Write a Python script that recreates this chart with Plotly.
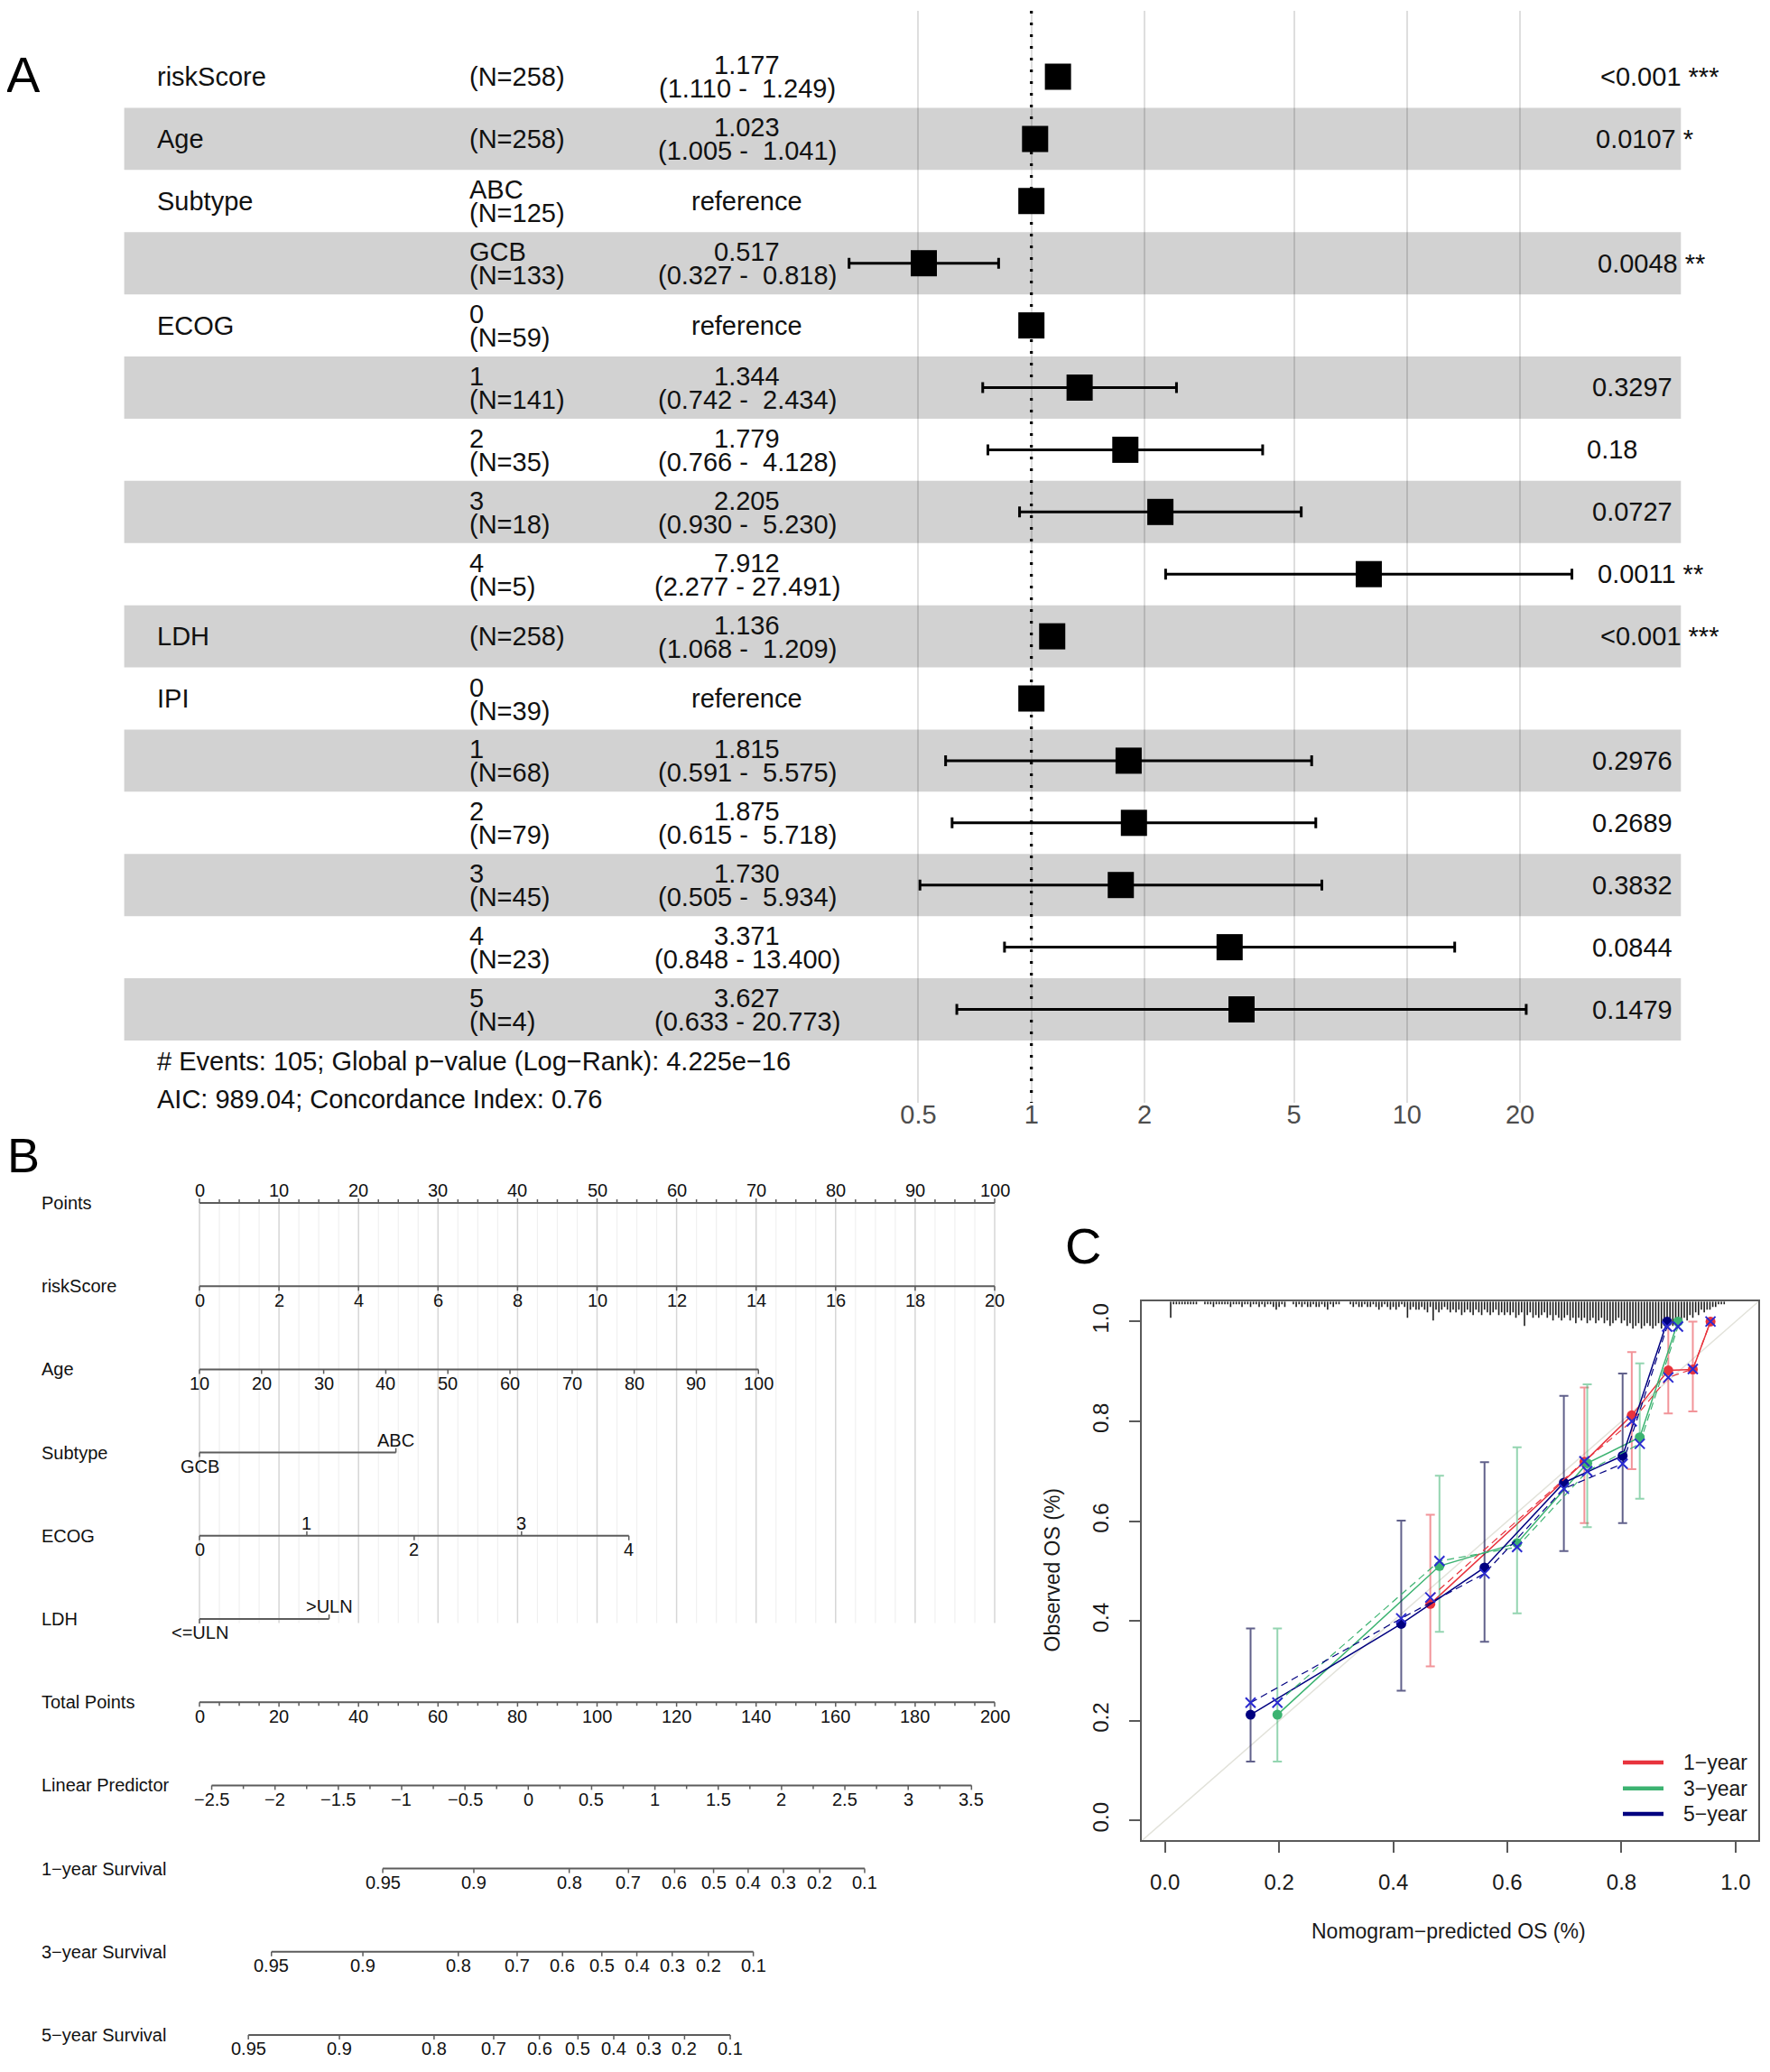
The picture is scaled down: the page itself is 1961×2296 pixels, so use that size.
import plotly.graph_objects as go

W, H = 1961, 2296
OFF = 8  # page body margin of the browser
FONT = "Liberation Sans, Arial, Helvetica, sans-serif"


def px(v):
    return (v - OFF) / W


def py(v):
    return 1 - (v - OFF) / H


# ---------------- Panel A: forest plot data ----------------
var_names = ["riskScore", "Age", "Subtype", "", "ECOG", "", "", "", "", "LDH", "IPI", "", "", "", "", ""]
levels = ["", "", "ABC", "GCB", "0", "1", "2", "3", "4", "", "0", "1", "2", "3", "4", "5"]
n_obs = [258, 258, 125, 133, 59, 141, 35, 18, 5, 258, 39, 68, 79, 45, 23, 4]
hr = [1.177, 1.023, 1.0, 0.517, 1.0, 1.344, 1.779, 2.205, 7.912, 1.136, 1.0, 1.815, 1.875, 1.730, 3.371, 3.627]
ci_low = [1.110, 1.005, None, 0.327, None, 0.742, 0.766, 0.930, 2.277, 1.068, None, 0.591, 0.615, 0.505, 0.848, 0.633]
ci_high = [1.249, 1.041, None, 0.818, None, 2.434, 4.128, 5.230, 27.491, 1.209, None, 5.575, 5.718, 5.934, 13.400, 20.773]
p_values = ["<0.001", "0.0107", "", "0.0048", "", "0.3297", "0.18", "0.0727", "0.0011", "<0.001", "",
            "0.2976", "0.2689", "0.3832", "0.0844", "0.1479"]
stars = ["***", "*", "", "**", "", "", "", "", "**", "***", "", "", "", "", "", ""]
hr_ticks = [0.5, 1, 2, 5, 10, 20]
footer_lines = ["# Events: 105; Global p\u2212value (Log\u2212Rank): 4.225e\u221216",
                "AIC: 989.04; Concordance Index: 0.76"]

# ---------------- Panel B: nomogram data ----------------
nomo_rows = ["Points", "riskScore", "Age", "Subtype", "ECOG", "LDH", "Total Points", "Linear Predictor",
             "1\u2212year Survival", "3\u2212year Survival", "5\u2212year Survival"]
points_ticks = [0, 10, 20, 30, 40, 50, 60, 70, 80, 90, 100]
riskscore_ticks = [0, 2, 4, 6, 8, 10, 12, 14, 16, 18, 20]
RS_PTS_PER_UNIT = 5.0
age_ticks = [10, 20, 30, 40, 50, 60, 70, 80, 90, 100]
AGE_PTS_PER_YEAR = 0.781
subtype_levels = ["GCB", "ABC"]
subtype_points = [0.0, 24.7]
ecog_levels = ["0", "1", "2", "3", "4"]
ecog_points = [0.0, 13.5, 27.0, 40.5, 54.0]
ldh_levels = ["<=ULN", ">ULN"]
ldh_points = [0.0, 16.3]
total_ticks = [0, 20, 40, 60, 80, 100, 120, 140, 160, 180, 200]
lp_ticks = [-2.5, -2, -1.5, -1, -0.5, 0, 0.5, 1, 1.5, 2, 2.5, 3, 3.5]
LP_TP_AT_ZERO = 82.7
TP_PER_LP = 31.85
surv_ticks = ["0.95", "0.9", "0.8", "0.7", "0.6", "0.5", "0.4", "0.3", "0.2", "0.1"]
surv1_tp = [46.1, 69.0, 93.0, 107.9, 119.5, 129.3, 138.0, 146.9, 156.0, 167.3]
surv3_tp = [18.1, 41.1, 65.1, 79.9, 91.3, 101.2, 110.0, 118.9, 128.0, 139.3]
surv5_tp = [12.3, 35.2, 59.0, 74.0, 85.5, 95.2, 104.2, 113.0, 122.0, 133.5]

# ---------------- Panel C: calibration data ----------------
cal_pred_1 = [0.465, 0.735, 0.818, 0.882, 0.925, 0.956]
cal_obs_1 = [0.434, 0.719, 0.812, 0.902, 0.904, 1.0]
cal_lo_1 = [0.309, 0.596, 0.704, 0.816, 0.820, 1.0]
cal_hi_1 = [0.613, 0.868, 0.939, 1.0, 1.0, 1.0]
cal_corr_1 = [0.447, 0.720, 0.800, 0.888, 0.905, 1.0]

cal_pred_3 = [0.197, 0.481, 0.617, 0.740, 0.832, 0.899]
cal_obs_3 = [0.212, 0.510, 0.556, 0.716, 0.768, 1.0]
cal_lo_3 = [0.118, 0.378, 0.415, 0.588, 0.645, 1.0]
cal_hi_3 = [0.385, 0.691, 0.748, 0.874, 0.916, 1.0]
cal_corr_3 = [0.236, 0.520, 0.548, 0.700, 0.755, 0.99]

cal_pred_5 = [0.150, 0.414, 0.560, 0.699, 0.802, 0.880]
cal_obs_5 = [0.212, 0.394, 0.507, 0.677, 0.731, 1.0]
cal_lo_5 = [0.118, 0.260, 0.358, 0.540, 0.596, 1.0]
cal_hi_5 = [0.385, 0.601, 0.718, 0.851, 0.896, 1.0]
cal_corr_5 = [0.236, 0.405, 0.495, 0.665, 0.715, 0.99]

cal_ticks = [0.0, 0.2, 0.4, 0.6, 0.8, 1.0]
rug_start = 0.005
rug_step = 0.005
rug_counts = [0, 6, 1, 1, 1, 1, 1, 1, 1, 1,
              1, 0, 0, 1, 1, 1, 2, 1, 1, 1,
              1, 1, 2, 1, 1, 1, 2, 1, 1, 2,
              1, 1, 2, 1, 2, 1, 1, 2, 3, 2,
              1, 2, 0, 0, 1, 2, 1, 2, 1, 2,
              2, 1, 2, 2, 1, 2, 3, 1, 2, 1,
              1, 0, 0, 0, 1, 2, 1, 2, 2, 1,
              2, 2, 1, 2, 3, 2, 1, 2, 3, 2,
              3, 2, 1, 2, 6, 3, 2, 3, 3, 2,
              3, 4, 2, 7, 3, 4, 3, 2, 3, 4,
              3, 4, 3, 5, 4, 3, 4, 5, 3, 4,
              5, 3, 4, 5, 4, 3, 5, 4, 5, 4,
              5, 4, 6, 5, 4, 9, 5, 4, 6, 5,
              6, 5, 4, 6, 5, 7, 5, 6, 7, 6,
              5, 7, 6, 8, 6, 7, 6, 8, 7, 6,
              8, 7, 6, 8, 7, 9, 8, 7, 6, 8,
              7, 9, 8, 10, 9, 8, 10, 9, 8, 9,
              10, 9, 8, 10, 9, 10, 8, 9, 8, 9,
              8, 6, 7, 5, 6, 4, 5, 3, 4, 3,
              3, 2, 2, 1, 1, 1]

# ---------------- styles ----------------
BAND = "#d2d2d2"
TXT = "#111111"
RED = "#e8333d"
GREEN = "#3cb371"
NAVY = "#000080"
BLUE = "#2b2bd0"
NOMO_LINE = "#5c5c5c"

fig = go.Figure()
shapes = []
annotations = []


def ann(text, x, y, xref="paper", yref="paper", size=29, xanchor="left", yanchor="middle",
        color=TXT, xshift=0, yshift=0, textangle=0):
    annotations.append(dict(text=text, x=x, y=y, xref=xref, yref=yref, showarrow=False,
                            font=dict(family=FONT, size=size, color=color), xanchor=xanchor,
                            yanchor=yanchor, xshift=xshift, yshift=yshift, textangle=textangle))


# ================= Panel A =================
n_rows = len(hr)
for i in range(n_rows):
    if i % 2 == 1:
        shapes.append(dict(type="rect", xref="x domain", yref="y", x0=0, x1=1, y0=i - 0.5, y1=i + 0.5,
                           fillcolor=BAND, line_width=0, layer="below"))

Y_TOP, Y_BOT = -1.0595, 16.502
fig.add_trace(go.Scatter(x=[1, 1], y=[Y_TOP, Y_BOT], mode="lines", xaxis="x", yaxis="y",
                         line=dict(color="black", width=3.2, dash="3px,10px"), hoverinfo="skip"))

ci_idx = [i for i in range(n_rows) if ci_low[i] is not None]
ref_idx = [i for i in range(n_rows) if ci_low[i] is None]
fig.add_trace(go.Scatter(
    x=[hr[i] for i in ci_idx], y=ci_idx, mode="markers", xaxis="x", yaxis="y",
    marker=dict(symbol="square", size=29, color="black"),
    error_x=dict(type="data", symmetric=False,
                 array=[ci_high[i] - hr[i] for i in ci_idx],
                 arrayminus=[hr[i] - ci_low[i] for i in ci_idx],
                 color="black", thickness=3, width=6),
    hoverinfo="skip"))
fig.add_trace(go.Scatter(x=[hr[i] for i in ref_idx], y=ref_idx, mode="markers", xaxis="x", yaxis="y",
                         marker=dict(symbol="square", size=29, color="black"), hoverinfo="skip"))

CW = {".": 0.278, "<": 0.584, " ": 0.278, "*": 0.389}
hi_strs = [f"{v:.3f}" if v is not None else "" for v in ci_high]
hi_w = max(len(s) for s in hi_strs)
for i in range(n_rows):
    if var_names[i]:
        ann(var_names[i], px(172), i, yref="y")
    ntxt = f"(N={n_obs[i]})"
    if levels[i]:
        ann(levels[i], px(517.5), i, yref="y", yshift=12.5)
        ann(ntxt, px(517.5), i, yref="y", yshift=-13.5)
    else:
        ann(ntxt, px(517.5), i, yref="y")
    if ci_low[i] is None:
        ann("reference", px(827.5), i, yref="y", xanchor="center")
    else:
        hs = hi_strs[i]
        ci_txt = f"({ci_low[i]:.3f} -\u00a0" + "\u00a0" * (hi_w - len(hs)) + hs + ")"
        ann(f"{hr[i]:.3f}", px(827.5), i, yref="y", xanchor="center", yshift=12.5)
        ann(ci_txt, px(827.5), i, yref="y", xanchor="center", yshift=-13.5)
    if p_values[i]:
        ptxt = p_values[i] + (" " + stars[i] if stars[i] else "")
        w = sum(CW.get(ch, 0.556) for ch in ptxt) * 29
        ann(ptxt.replace(" ", "\u00a0"), px(1744.5), i, yref="y", xshift=0.2 * w)

ann(footer_lines[0], px(172), py(1176))
ann(footer_lines[1], px(172), py(1217.5))
ann("A", px(26), py(83), size=56, xanchor="center", color="black")

# ================= Panel B =================
ROW_PX = 92.2
TICK = 5 / ROW_PX


def pts_of_tp(tp):
    return tp / 2.0


grid_major_x, grid_major_y, grid_minor_x, grid_minor_y = [], [], [], []
k = 0
while k * 2.5 <= 100.0001:
    v = k * 2.5
    if k % 4 == 0:
        grid_major_x += [v, v, None]
        grid_major_y += [0, 5.05, None]
    else:
        grid_minor_x += [v, v, None]
        grid_minor_y += [0, 5.05, None]
    k += 1
fig.add_trace(go.Scatter(x=grid_minor_x, y=grid_minor_y, mode="lines", xaxis="x2", yaxis="y2",
                         line=dict(color="#f0f0f0", width=1.2), hoverinfo="skip"))
fig.add_trace(go.Scatter(x=grid_major_x, y=grid_major_y, mode="lines", xaxis="x2", yaxis="y2",
                         line=dict(color="#d6d6d6", width=1.5), hoverinfo="skip"))

line_x, line_y, tick_x, tick_y = [], [], [], []


def nomo_scale(row, positions, labels, sides, minor=None, minor_side=None):
    line_x.extend([min(positions), max(positions), None])
    line_y.extend([row, row, None])
    for p, lab, s in zip(positions, labels, sides):
        tick_x.extend([p, p, None])
        tick_y.extend([row, row + s * TICK, None])
        ann(lab, p, row, xref="x2", yref="y2", size=20, xanchor="center",
            yshift=(-15.5 if s > 0 else 14))
    if minor:
        for p in minor:
            tick_x.extend([p, p, None])
            tick_y.extend([row, row + minor_side * TICK * 0.8, None])


nomo_scale(0, points_ticks, [str(v) for v in points_ticks], [-1] * len(points_ticks),
           minor=[k * 2.5 for k in range(41) if k % 4 != 0], minor_side=-1)
nomo_scale(1, [v * RS_PTS_PER_UNIT for v in riskscore_ticks], [str(v) for v in riskscore_ticks],
           [1] * len(riskscore_ticks))
nomo_scale(2, [(v - 10) * AGE_PTS_PER_YEAR for v in age_ticks], [str(v) for v in age_ticks],
           [1] * len(age_ticks))
nomo_scale(3, subtype_points, subtype_levels, [1, -1])
nomo_scale(4, ecog_points, ecog_levels, [1, -1, 1, -1, 1])
nomo_scale(5, ldh_points, ldh_levels, [1, -1])
nomo_scale(6, [pts_of_tp(v) for v in total_ticks], [str(v) for v in total_ticks], [1] * len(total_ticks),
           minor=[pts_of_tp(v) for v in range(0, 201, 5) if v % 20 != 0], minor_side=1)


def lp_label(v):
    s = f"{v:g}"
    return s.replace("-", "\u2212")


lp_minor = [lp_ticks[0] + 0.25 + 0.5 * j for j in range(len(lp_ticks) - 1)]
nomo_scale(7, [pts_of_tp(LP_TP_AT_ZERO + TP_PER_LP * v) for v in lp_ticks], [lp_label(v) for v in lp_ticks],
           [1] * len(lp_ticks), minor=[pts_of_tp(LP_TP_AT_ZERO + TP_PER_LP * v) for v in lp_minor], minor_side=1)
nomo_scale(8, [pts_of_tp(v) for v in surv1_tp], surv_ticks, [1] * len(surv_ticks))
nomo_scale(9, [pts_of_tp(v) for v in surv3_tp], surv_ticks, [1] * len(surv_ticks))
nomo_scale(10, [pts_of_tp(v) for v in surv5_tp], surv_ticks, [1] * len(surv_ticks))

fig.add_trace(go.Scatter(x=line_x, y=line_y, mode="lines", xaxis="x2", yaxis="y2",
                         line=dict(color=NOMO_LINE, width=2), hoverinfo="skip"))
fig.add_trace(go.Scatter(x=tick_x, y=tick_y, mode="lines", xaxis="x2", yaxis="y2",
                         line=dict(color=NOMO_LINE, width=1.5), hoverinfo="skip"))

for r, name in enumerate(nomo_rows):
    ann(name, px(44), r, yref="y2", size=20)
ann("B", px(25.6), py(1280), size=54, xanchor="center", color="black")

# ================= Panel C =================
fig.add_trace(go.Scatter(x=[-0.04, 1.04], y=[-0.04, 1.04], mode="lines", xaxis="x3", yaxis="y3",
                         line=dict(color="#e2e2da", width=1.5), hoverinfo="skip"))

RUG_TOP = 1.04
RUG_UNIT = 3.0 / 552.9
rug_x, rug_y = [], []
for j, c in enumerate(rug_counts):
    if c <= 0:
        continue
    xv = rug_start + j * rug_step
    rug_x += [xv, xv, None]
    rug_y += [RUG_TOP, RUG_TOP - c * RUG_UNIT, None]
fig.add_trace(go.Scatter(x=rug_x, y=rug_y, mode="lines", xaxis="x3", yaxis="y3",
                         line=dict(color="#1e1e1e", width=1.6), hoverinfo="skip"))

groups = [
    (cal_pred_1, cal_obs_1, cal_lo_1, cal_hi_1, cal_corr_1, RED, "rgba(232,60,70,0.55)"),
    (cal_pred_3, cal_obs_3, cal_lo_3, cal_hi_3, cal_corr_3, GREEN, "rgba(60,179,113,0.55)"),
    (cal_pred_5, cal_obs_5, cal_lo_5, cal_hi_5, cal_corr_5, NAVY, "rgba(30,30,90,0.7)"),
]
for pred, obs, lo, hi, corr, col, ecol in groups:
    fig.add_trace(go.Scatter(
        x=pred, y=obs, mode="lines+markers", xaxis="x3", yaxis="y3",
        line=dict(color=col, width=1.5),
        marker=dict(symbol="circle", size=11, color=col),
        error_y=dict(type="data", symmetric=False,
                     array=[h - o for h, o in zip(hi, obs)],
                     arrayminus=[o - l for o, l in zip(obs, lo)],
                     color=ecol, thickness=2, width=5),
        hoverinfo="skip"))
for pred, obs, lo, hi, corr, col, ecol in groups:
    fig.add_trace(go.Scatter(
        x=pred, y=corr, mode="lines+markers", xaxis="x3", yaxis="y3",
        line=dict(color=col, width=1.2, dash="8px,5px"),
        marker=dict(symbol="x-thin", size=11, line=dict(color=BLUE, width=2)),
        hoverinfo="skip"))

leg_items = [("1\u2212year", RED, 1953), ("3\u2212year", GREEN, 1981.7), ("5\u2212year", NAVY, 2010)]
for lab, col, yy in leg_items:
    shapes.append(dict(type="line", xref="paper", yref="paper", x0=px(1798), x1=px(1843),
                       y0=py(yy), y1=py(yy), line=dict(color=col, width=4.5)))
    ann(lab, px(1863), py(yy), size=23, color="#1a1a1a")

ann("Nomogram\u2212predicted OS (%)", px(1605), py(2140), size=23, xanchor="center", color="#1a1a1a")
ann("Observed OS (%)", px(1165.5), py(1740), size=23, xanchor="center", color="#1a1a1a", textangle=-90)
ann("C", px(1200), py(1380), size=56, xanchor="center", color="black")

cal_ticktext = [f"{v:.1f}" for v in cal_ticks]
axis_c = dict(range=[-0.04, 1.04], showgrid=False, zeroline=False, showline=True, mirror=True,
              linecolor="#5a5a5a", linewidth=2, ticks="outside", ticklen=12, tickwidth=2,
              tickcolor="#5a5a5a", tickvals=cal_ticks, ticktext=cal_ticktext,
              tickfont=dict(family=FONT, size=24, color="#1a1a1a"))

fig.update_layout(
    width=W, height=H, margin=dict(l=0, r=0, t=0, b=0),
    paper_bgcolor="white", plot_bgcolor="white", showlegend=False,
    font=dict(family=FONT, color=TXT),
    xaxis=dict(type="log", range=[-2.4155, 1.7294], domain=[px(137.6), px(1862.3)], anchor="y",
               tickvals=hr_ticks, ticktext=[f"{v:g}" for v in hr_ticks], showgrid=True,
               gridcolor="rgba(0,0,0,0.13)", gridwidth=1.5, zeroline=False, showline=False, ticks="",
               tickfont=dict(family=FONT, size=29, color="#4d4d4d"), ticklabelstandoff=-7),
    yaxis=dict(range=[Y_BOT, Y_TOP], domain=[py(1222), py(12)], visible=False, anchor="x"),
    xaxis2=dict(range=[-5, 105], domain=[px(176.95), px(1146.05)], visible=False, anchor="y2"),
    yaxis2=dict(range=[10.380, -0.358], domain=[py(2290), py(1300)], visible=False, anchor="x2"),
    xaxis3=dict(domain=[px(1265.4), px(1948.2)], anchor="y3", ticklabelstandoff=12, **axis_c),
    yaxis3=dict(domain=[py(2039.4), py(1442.3)], anchor="x3", tickangle=-90, ticklabelstandoff=14, **axis_c),
    shapes=shapes,
    annotations=annotations,
)

fig.write_html("out.html")
